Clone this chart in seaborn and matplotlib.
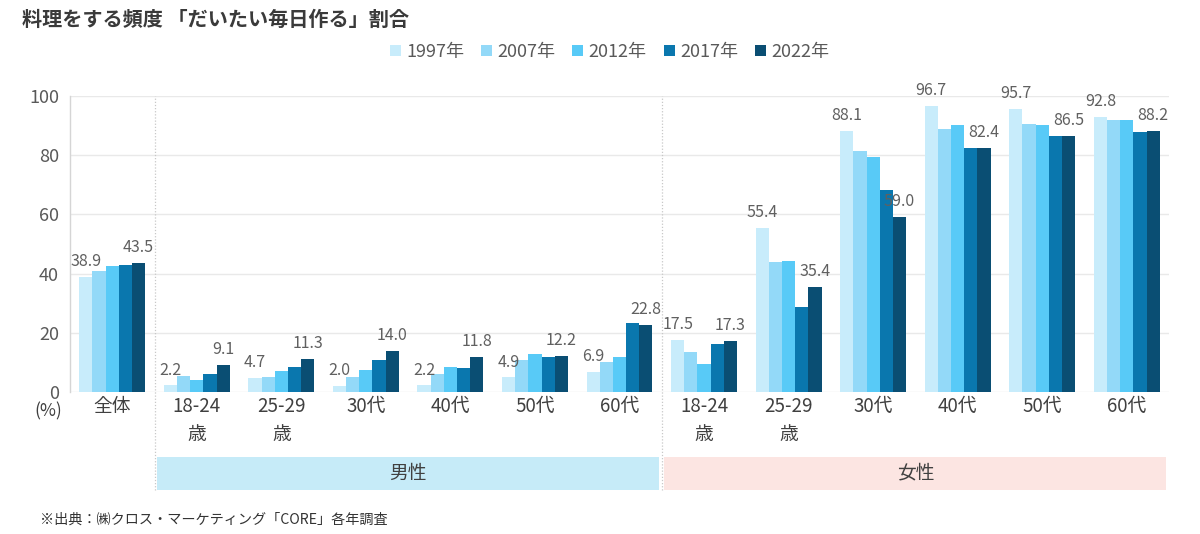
import matplotlib
matplotlib.use("Agg")
import matplotlib.pyplot as plt
import matplotlib.transforms as mtransforms
from matplotlib.patches import Rectangle
import seaborn as sns
import pandas as pd

# ---- data ----
years = ["1997年", "2007年", "2012年", "2017年", "2022年"]
groups = ["全体",
          "男性18-24歳", "男性25-29歳", "男性30代", "男性40代", "男性50代", "男性60代",
          "女性18-24歳", "女性25-29歳", "女性30代", "女性40代", "女性50代", "女性60代"]
tick_labels = ["全体",
               "18-24\n歳", "25-29\n歳", "30代", "40代", "50代", "60代",
               "18-24\n歳", "25-29\n歳", "30代", "40代", "50代", "60代"]
v1997 = [38.9, 2.2, 4.7, 2.0, 2.2, 4.9, 6.9, 17.5, 55.4, 88.1, 96.7, 95.7, 92.8]
v2007 = [40.9, 5.5, 5.2, 5.1, 6.0, 10.8, 10.2, 13.6, 43.9, 81.5, 88.8, 90.5, 91.8]
v2012 = [42.4, 4.2, 7.2, 7.5, 8.3, 12.9, 11.9, 9.5, 44.2, 79.3, 90.1, 90.3, 91.8]
v2017 = [42.8, 6.2, 8.5, 10.8, 8.2, 11.9, 23.4, 16.1, 28.6, 68.2, 82.6, 86.4, 87.9]
v2022 = [43.5, 9.1, 11.3, 14.0, 11.8, 12.2, 22.8, 17.3, 35.4, 59.0, 82.4, 86.5, 88.2]
sections = ["男性", "女性"]

series = [v1997, v2007, v2012, v2017, v2022]
rows = []
for yr, vals in zip(years, series):
    for g, v in zip(groups, vals):
        rows.append({"group": g, "year": yr, "value": v})
df = pd.DataFrame(rows)

colors = ["#C8ECFB", "#93D9F8", "#58CAF7", "#0A77AE", "#0A4E73"]

sns.set_theme(style="white")
plt.rcParams["font.family"] = ["Noto Sans CJK JP", "DejaVu Sans"]

fig = plt.figure(figsize=(12, 5.34), dpi=100)
ax = fig.add_axes([70 / 1200, 1 - 392 / 534, (1169 - 70) / 1200, (392 - 96) / 534])

sns.barplot(data=df, x="group", y="value", hue="year", order=groups,
            hue_order=years, palette=colors, width=0.78, saturation=1,
            linewidth=0, ax=ax)

handles, labels = ax.get_legend_handles_labels()
if ax.get_legend() is not None:
    ax.get_legend().remove()

ax.set_ylim(0, 100)
ax.set_xlim(-0.5, len(groups) - 0.5)
ax.set_yticks([0, 20, 40, 60, 80, 100])
ax.set_xticks(range(len(groups)))
ax.set_xticklabels(tick_labels, fontsize=13.5, color="#404040", linespacing=1.4, va="top")
ax.tick_params(axis="x", length=0, pad=3)
ax.tick_params(axis="y", labelsize=13, labelcolor="#595959", length=0, pad=8)
ax.set_xlabel("")
ax.set_ylabel("")
ax.yaxis.grid(True, color="#E9E9E9", linewidth=1)
ax.set_axisbelow(True)
for s in ["top", "right", "bottom"]:
    ax.spines[s].set_visible(False)
ax.spines["left"].set_color("#D5D5D5")
ax.spines["left"].set_linewidth(1)

# data labels on first and last year
for idx in (0, 4):
    ax.bar_label(ax.containers[idx], fmt="%.1f", padding=5, fontsize=11.5,
                 color="#606060", clip_on=False)

# (%) label
ax.text(-0.02, -0.066, "(%)", transform=ax.transAxes, ha="center", va="center",
        fontsize=12.5, color="#404040")

# section bands and dividers
trans = mtransforms.blended_transform_factory(ax.transData, ax.transAxes)
band_lo, band_hi = -0.332, -0.218
band_colors = ["#C6EBF8", "#FCE5E2"]
spans = [(0.5, 6.5), (6.5, 12.5)]
for (x0, x1), name, col in zip(spans, sections, band_colors):
    ax.add_patch(Rectangle((x0 + 0.03, band_lo), (x1 - x0) - 0.06, band_hi - band_lo,
                           transform=trans, facecolor=col, edgecolor="none",
                           clip_on=False))
    ax.text((x0 + x1) / 2, (band_lo + band_hi) / 2, name, transform=trans,
            ha="center", va="center", fontsize=13.5, color="#404040")
for xd in (0.5, 6.5):
    ax.axvline(xd, ymin=band_lo, ymax=1, color="#C8C8C8", linewidth=0.9,
               linestyle=(0, (1, 1.5)), clip_on=False)

# legend
fig.legend(handles, labels, loc="center", bbox_to_anchor=(0.508, 1 - 52 / 534),
           ncol=5, frameon=False, fontsize=13, labelcolor="#595959",
           handlelength=0.6, handleheight=0.6, handletextpad=0.3,
           columnspacing=0.95)

# title and source
fig.text(22 / 1200, 1 - 19 / 534, "料理をする頻度 「だいたい毎日作る」割合",
         fontsize=14.5, fontweight="bold", color="#3A3A3A", ha="left", va="center")
fig.text(40 / 1200, 1 - 520 / 534, "※出典：㈱クロス・マーケティング「CORE」各年調査",
         fontsize=10.2, color="#333333", ha="left", va="center")

fig.savefig("out.png", dpi=100, facecolor="white")
